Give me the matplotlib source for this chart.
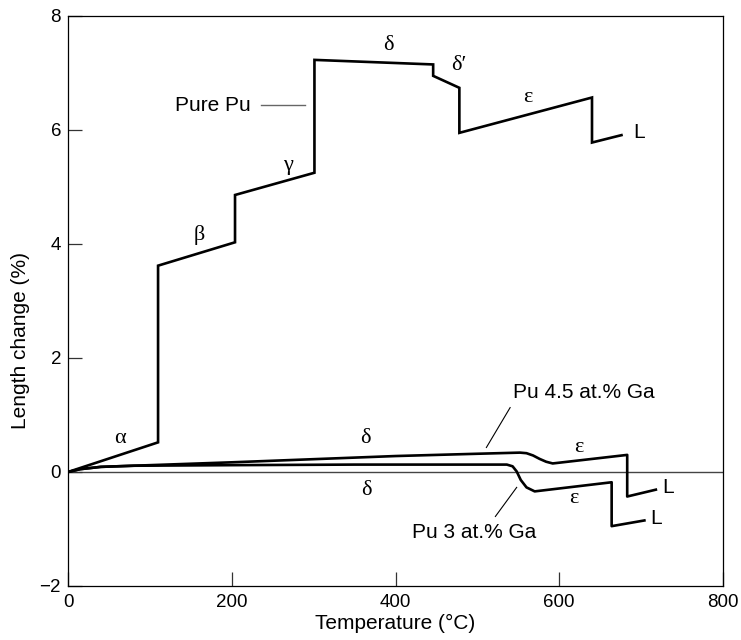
import matplotlib
matplotlib.use("Agg")
import matplotlib.pyplot as plt

plt.rcParams['font.family'] = ['Liberation Sans', 'DejaVu Sans']

# Pure Pu dilatometry curve (temperature °C, length change %)
pure_t = [0, 110, 110, 204, 204, 301, 301, 446, 446, 478, 478, 640, 640, 676]
pure_l = [0, 0.52, 3.62, 4.03, 4.86, 5.25, 7.23, 7.15, 6.95, 6.74, 5.95, 6.57, 5.78, 5.91]

# Pu 4.5 at.% Ga
ga45_t = [0, 15, 40, 80, 200, 400, 500, 552, 560, 568, 576, 584, 592, 683, 683, 718]
ga45_l = [0, 0.05, 0.09, 0.11, 0.17, 0.28, 0.32, 0.34, 0.33, 0.29, 0.23, 0.18, 0.15, 0.30, -0.43, -0.31]

# Pu 3 at.% Ga
ga3_t = [0, 15, 40, 80, 200, 350, 500, 536, 543, 548, 553, 560, 570, 664, 664, 704]
ga3_l = [0, 0.05, 0.09, 0.11, 0.12, 0.13, 0.13, 0.13, 0.10, 0.01, -0.14, -0.27, -0.34, -0.18, -0.95, -0.85]

xticks = [0, 200, 400, 600, 800]
yticks = [-2, 0, 2, 4, 6, 8]

fig = plt.figure(figsize=(7.41, 6.40), dpi=100)
L, R, T, B = 68, 723, 16, 586
ax = fig.add_axes([L/741, 1-B/640, (R-L)/741, (B-T)/640])

ax.axhline(0, color='#444444', lw=1.0, zorder=1)
ax.plot(pure_t, pure_l, color='black', lw=1.9, solid_joinstyle='miter', zorder=3)
ax.plot(ga45_t, ga45_l, color='black', lw=1.9, solid_joinstyle='round', zorder=3)
ax.plot(ga3_t, ga3_l, color='black', lw=1.9, solid_joinstyle='round', zorder=3)

ax.set_xlim(0, 800)
ax.set_ylim(-2, 8)
ax.set_xticks(xticks)
ax.set_yticks(yticks)
ax.tick_params(direction='in', length=10, width=0.9, labelsize=13.5, color='#333333')
ax.tick_params(axis='x', pad=6)
ax.tick_params(axis='y', pad=5)
ax.set_yticklabels(['\u22122', '0', '2', '4', '6', '8'])
for s in ax.spines.values():
    s.set_linewidth(0.9)
ax.set_xlabel('Temperature (\u00b0C)', fontsize=15, labelpad=2)
ax.set_ylabel('Length change (%)', fontsize=15)
ax.yaxis.set_label_coords(-0.058, 0.43)

greek = dict(fontsize=16, family=['Liberation Serif', 'DejaVu Serif'], ha='center', va='center')
ax.text(63, 0.59, '\u03b1', **greek)
ax.text(160, 4.16, '\u03b2', **greek)
ax.text(269, 5.37, '\u03b3', **greek)
ax.text(391, 7.49, '\u03b4', **greek)
ax.text(477, 7.13, "\u03b4\u2032", **greek)
ax.text(561, 6.57, '\u03b5', **greek)
ax.text(363, 0.58, '\u03b4', **greek)
ax.text(364, -0.33, '\u03b4', **greek)
ax.text(624, 0.43, '\u03b5', **greek)
ax.text(618, -0.47, '\u03b5', **greek)

lab = dict(fontsize=15, va='center')
ax.text(690, 5.96, 'L', ha='left', **lab)
ax.text(733, -0.27, 'L', ha='center', **lab)
ax.text(718, -0.81, 'L', ha='center', **lab)

ax.text(223, 6.43, 'Pure Pu', ha='right', **lab)
ax.plot([236, 289], [6.43, 6.43], color='#666666', lw=1.0)

ax.text(544, 1.40, 'Pu 4.5 at.% Ga', ha='left', **lab)
ax.plot([540, 511], [1.13, 0.43], color='black', lw=0.8)

ax.text(420, -1.06, 'Pu 3 at.% Ga', ha='left', **lab)
ax.plot([548, 522], [-0.27, -0.78], color='black', lw=0.8)

fig.savefig('out.png', dpi=100)
